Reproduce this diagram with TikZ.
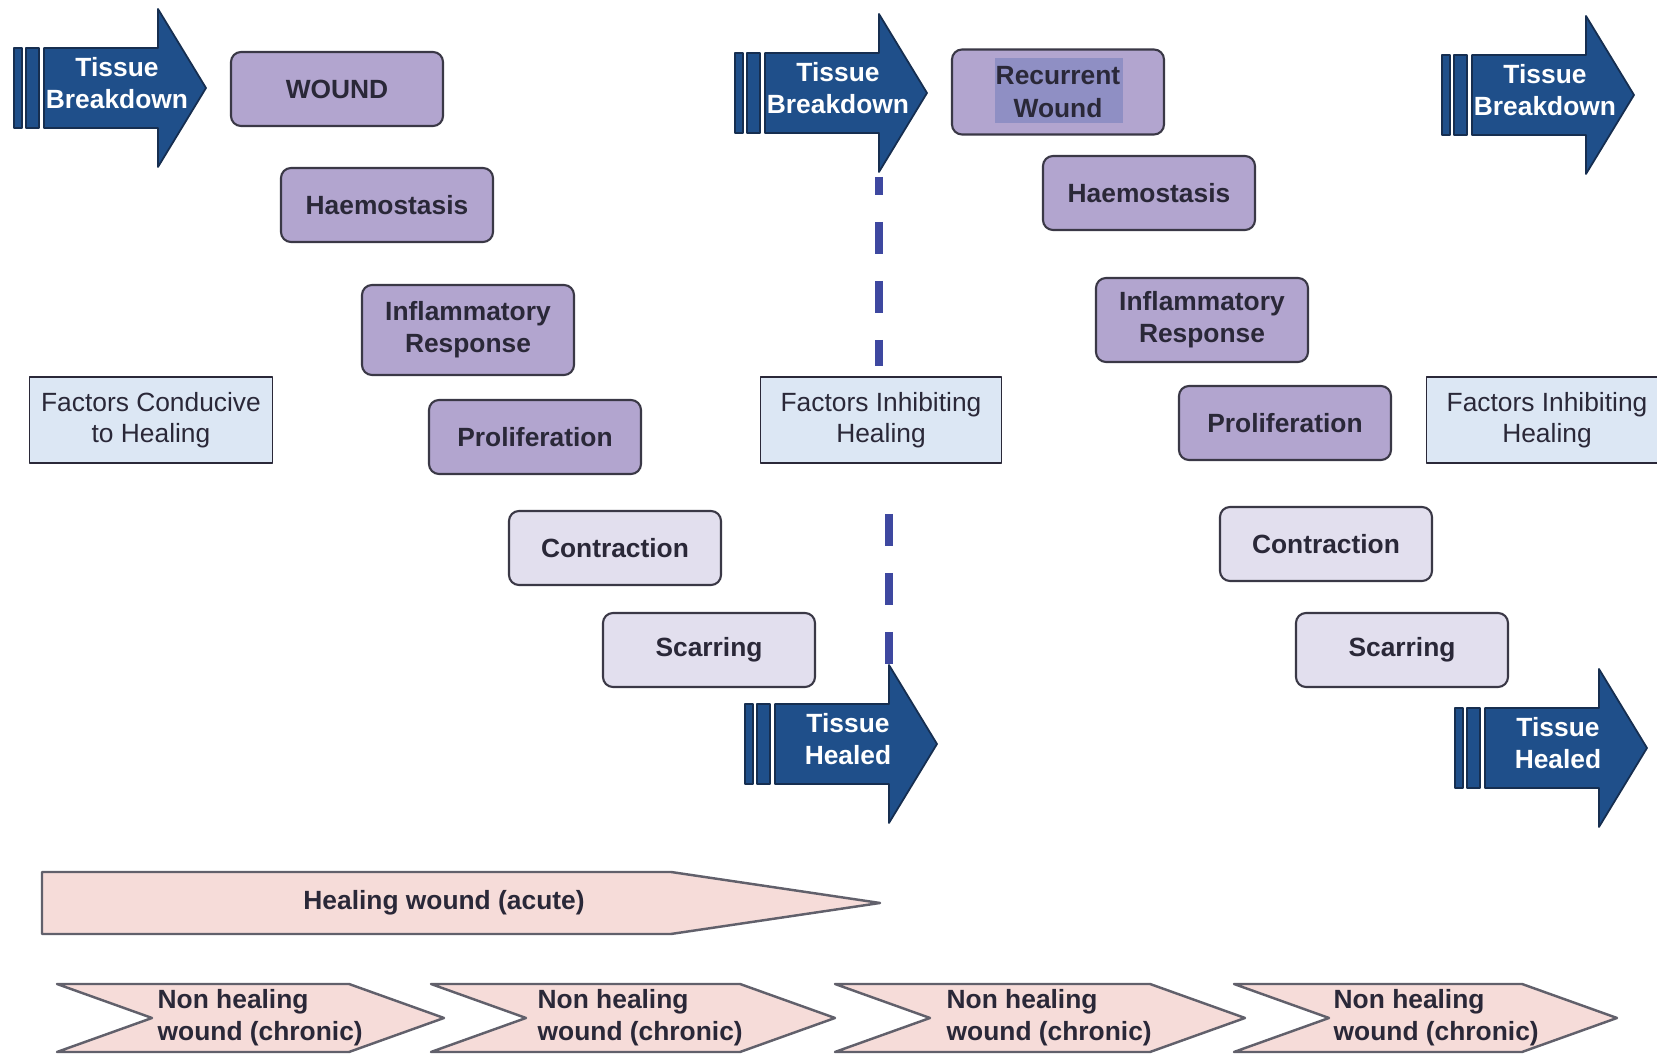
\documentclass[tikz,border=0pt]{standalone}
\usepackage{fontspec}
\setmainfont{Liberation Sans}
\usetikzlibrary{calc}
\definecolor{navy}{RGB}{31,79,138}
\definecolor{navyline}{RGB}{22,46,80}
\definecolor{phasefill}{RGB}{178,165,207}
\definecolor{latefill}{RGB}{226,223,238}
\definecolor{factorfill}{RGB}{220,231,244}
\definecolor{pinkfill}{RGB}{246,220,217}
\definecolor{boxline}{RGB}{58,56,70}
\definecolor{inkdark}{RGB}{42,40,56}
\definecolor{dashblue}{RGB}{62,72,160}
\definecolor{hilite}{RGB}{143,143,196}
\tikzset{
  phase/.style={draw=boxline, line width=0.6pt, fill=phasefill, rounded corners=1mm,
    minimum width=21.2mm, minimum height=7.4mm, align=center, text=inkdark,
    font=\bfseries\fontsize{7.5}{9.2}\selectfont},
  late phase/.style={phase, fill=latefill},
  marked/.style={path picture={\fill[hilite, sharp corners] ($(path picture bounding box.center)+(-6.3mm,3.4mm)$)
    rectangle ($(path picture bounding box.center)+(6.5mm,-3.1mm)$);}},
  factor/.style={draw=inkdark, line width=0.5pt, fill=factorfill, minimum width=24.1mm,
    minimum height=8.6mm, align=center, text=inkdark, font=\fontsize{7.5}{8.8}\selectfont},
  navy shape/.style={fill=navy, draw=navyline, line width=0.5pt},
  arrow text/.style={text=white, align=center, font=\bfseries\fontsize{7.5}{9.2}\selectfont},
  pink shape/.style={fill=pinkfill, draw=boxline!80, line width=0.7pt},
  pink text/.style={text=inkdark, align=left, font=\bfseries\fontsize{7.5}{9.2}\selectfont},
  dashline/.style={dashblue, line width=2pt, dash pattern=on 3.2mm off 2.7mm},
  tissue arrow/.pic={
    \filldraw[navy shape] (-30,-40) rectangle (-22,40);
    \filldraw[navy shape] (-18,-40) rectangle (-5,40);
    \filldraw[navy shape] (0,-40) -- (114,-40) -- (114,-79) -- (162,0) -- (114,79) -- (114,40) -- (0,40) -- cycle;
    \coordinate (-top) at (114,-79);
    \coordinate (-bottom) at (114,79);
    \node[arrow text] (-label) at (73,-5) {#1};
  }
}
\begin{document}
\begin{tikzpicture}[x=0.1mm, y=-0.1mm, line join=round]
  \clip (0,0) rectangle (1657,1054);
  % arrows for breakdown and healing
  \pic (bdA) at (44,88) {tissue arrow={Tissue\\Breakdown}};
  \pic (bdB) at (765,93) {tissue arrow={Tissue\\Breakdown}};
  \pic (bdC) at (1472,95) {tissue arrow={Tissue\\Breakdown}};
  \pic (hlA) at (775,744) {tissue arrow={Tissue\\Healed}};
  \pic (hlB) at (1485,748) {tissue arrow={Tissue\\Healed}};

  % first cycle
  \node[phase] (wound) at (337,89) {WOUND};
  \node[phase] (haemoA) at (387,205) {Haemostasis};
  \node[phase, minimum height=9mm] (inflamA) at (468,330) {Inflammatory\\Response};
  \node[phase] (prolifA) at (535,437) {Proliferation};
  \node[late phase] (contractA) at (615,548) {Contraction};
  \node[late phase] (scarA) at (709,650) {Scarring};

  % second cycle
  \node[phase, marked, minimum height=8.5mm] (recur) at (1058,92) {Recurrent\\Wound};
  \node[phase] (haemoB) at (1149,193) {Haemostasis};
  \node[phase, minimum height=8.4mm] (inflamB) at (1202,320) {Inflammatory\\Response};
  \node[phase] (prolifB) at (1285,423) {Proliferation};
  \node[late phase] (contractB) at (1326,544) {Contraction};
  \node[late phase] (scarB) at (1402,650) {Scarring};

  \node[factor] (conducive) at (151,420) {Factors Conducive\\to Healing};
  \node[factor] (inhA) at (881,420) {Factors Inhibiting\\Healing};
  \node[factor] (inhB) at (1547,420) {Factors Inhibiting\\Healing};

  \draw[dashline, dash phase=1.4mm, shorten <=0.5mm, shorten >=1mm] (bdB-bottom) -- (bdB-bottom |- inhA.north);
  \draw[dashline, shorten <=5mm] (hlA-top |- inhA.south) -- (hlA-top);

  % time lines
  \filldraw[pink shape] (42,872) -- (671,872) -- (880,903) -- (671,934) -- (42,934) -- cycle;
  \node[pink text] (acute) at (444,903) {Healing wound (acute)};
  \foreach \l/\r/\t [count=\i] in {57/444/157, 431/835/537, 835/1245/946, 1234/1617/1333}{
    \filldraw[pink shape] (\l,984) -- (\r-95,984) -- (\r,1018) -- (\r-95,1052) -- (\l,1052) -- (\l+95,1018) -- cycle;
    \node[pink text, anchor=west, inner xsep=0pt] (chronic\i) at (\t,1018) {Non healing\\wound (chronic)};
  }
\end{tikzpicture}
\end{document}
